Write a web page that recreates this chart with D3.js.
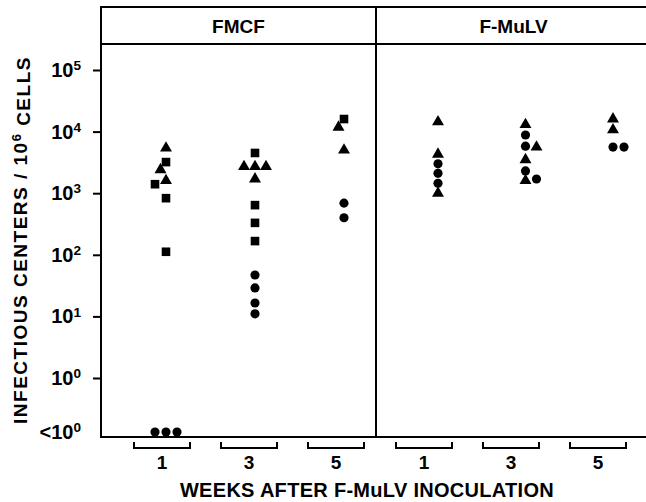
<!DOCTYPE html>
<html>
<head>
<meta charset="utf-8">
<script src="https://cdn.jsdelivr.net/npm/d3@7"></script>
<style>
  body { margin: 0; background: #fff; }
  svg { display: block; font-family: "Liberation Sans", Arial, sans-serif; font-weight: bold; }
</style>
</head>
<body>
<svg id="chart" width="646" height="502"></svg>
<script>
'use strict'

var panels = ['FMCF', 'F-MuLV']
var weeks = [1, 3, 5]
var decades = [0, 1, 2, 3, 4, 5]

// [week, marker, infectious centers / 10^6 cells]; 0 means below 10^0
var fmcfPoints = [
  [1, 'triangle', 5400], [1, 'square', 3200], [1, 'triangle', 2400],
  [1, 'triangle', 1600], [1, 'square', 1400], [1, 'square', 830],
  [1, 'square', 112], [1, 'circle', 0], [1, 'circle', 0], [1, 'circle', 0],
  [3, 'square', 4500], [3, 'triangle', 2700], [3, 'triangle', 2700],
  [3, 'triangle', 2700], [3, 'triangle', 1700], [3, 'square', 640],
  [3, 'square', 330], [3, 'square', 167], [3, 'circle', 47],
  [3, 'circle', 29], [3, 'circle', 16.5], [3, 'circle', 11],
  [5, 'square', 16000], [5, 'triangle', 11800], [5, 'triangle', 5000],
  [5, 'circle', 690], [5, 'circle', 400]
]

var fmulvPoints = [
  [1, 'triangle', 14400], [1, 'triangle', 4300], [1, 'circle', 3000],
  [1, 'circle', 2100], [1, 'circle', 1450], [1, 'triangle', 1000],
  [3, 'triangle', 13000], [3, 'circle', 8800], [3, 'circle', 5800],
  [3, 'triangle', 5600], [3, 'triangle', 3500], [3, 'circle', 2300],
  [3, 'triangle', 1600], [3, 'circle', 1700],
  [5, 'triangle', 16000], [5, 'triangle', 10700], [5, 'circle', 5600],
  [5, 'circle', 5600]
]

var panelPoints = [fmcfPoints, fmulvPoints]

var svg = d3.select('#chart')

var frameTop = 7
var headerBottom = 44
var frameBottom = 437
var belowY = 432

var y = d3.scaleLog().domain([1, 1e5]).range([378, 70])
var panelX = d3.scaleBand().domain(panels).range([101, 651])

// per panel layout: where the week columns and the brackets sit
var layout = {
  'FMCF': { points: [65, 243], brackets: [61, 235], side: -1 },
  'F-MuLV': { points: [62, 237], brackets: [48, 222], side: 1 }
}

var symbols = {
  circle: d3.symbol(d3.symbolCircle, 66),
  square: d3.symbol(d3.symbolSquare, 74),
  triangle: d3.symbol(d3.symbolTriangle, 62)
}

function yOf (v) {
  return v > 0 ? y(v) : belowY
}

// spread out markers that would sit on top of each other
function dodge (rows, side) {
  var step = 5.5
  var gap = 9
  var placed = []
  rows.forEach(function (d) {
    var cands = [0, side, -side, 2 * side, -2 * side, 3 * side, -3 * side]
    for (var i = 0; i < cands.length; i++) {
      var dx = cands[i] * step
      var ok = placed.every(function (p) {
        return p.week !== d.week || Math.hypot(p.dx - dx, p.y - d.y) >= gap
      })
      if (ok) { d.dx = dx; break }
    }
    placed.push(d)
  })
  return rows
}

// frame
var frame = svg.append('g')
  .attr('fill', 'none')
  .attr('stroke', '#000')
  .attr('stroke-width', 2)

frame.append('rect')
  .attr('x', panelX.range()[0])
  .attr('y', frameTop)
  .attr('width', panelX.range()[1] - panelX.range()[0])
  .attr('height', frameBottom - frameTop)

frame.append('line')
  .attr('x1', panelX.range()[0]).attr('x2', panelX.range()[1])
  .attr('y1', headerBottom).attr('y2', headerBottom)

frame.append('line')
  .attr('x1', panelX('F-MuLV')).attr('x2', panelX('F-MuLV'))
  .attr('y1', frameTop).attr('y2', frameBottom)

// left axis ticks
var axis = svg.append('g')
  .attr('transform', 'translate(' + panelX.range()[0] + ',0)')
  .call(d3.axisLeft(y)
    .tickValues(decades.map(function (k) { return Math.pow(10, k) }))
    .tickSize(8)
    .tickFormat(''))

axis.select('.domain').remove()
axis.selectAll('.tick line').attr('stroke-width', 2)

function powerLabel (sel, prefix, exp) {
  sel.append('tspan').text(prefix)
  sel.append('tspan')
    .attr('dy', '-0.5em')
    .attr('font-size', '0.68em')
    .text(exp)
}

decades.forEach(function (k) {
  svg.append('text')
    .attr('x', 81)
    .attr('y', y(Math.pow(10, k)) + 7)
    .attr('text-anchor', 'end')
    .attr('font-size', 20)
    .call(powerLabel, '10', k)
})

svg.append('text')
  .attr('x', 81)
  .attr('y', belowY + 7)
  .attr('text-anchor', 'end')
  .attr('font-size', 20)
  .call(powerLabel, '<10', 0)

svg.append('text')
  .attr('transform', 'translate(27,240) rotate(-90)')
  .attr('text-anchor', 'middle')
  .attr('font-size', 19)
  .attr('letter-spacing', 1.5)
  .call(function (t) {
    t.append('tspan').text('INFECTIOUS CENTERS / 10')
    t.append('tspan').attr('dy', '-0.5em').attr('font-size', '0.68em').text('6')
    t.append('tspan').attr('dy', '0.5em').text(' CELLS')
  })

// panels
panels.forEach(function (name, i) {
  var x0 = panelX(name)
  var lay = layout[name]
  var xPts = d3.scalePoint().domain(weeks).range(lay.points.map(function (v) { return x0 + v }))
  var xBr = d3.scalePoint().domain(weeks).range(lay.brackets.map(function (v) { return x0 + v }))

  svg.append('text')
    .attr('x', x0 + panelX.bandwidth() / 2)
    .attr('y', (frameTop + headerBottom) / 2 + 7)
    .attr('text-anchor', 'middle')
    .attr('font-size', 19)
    .text(name)

  var rows = panelPoints[i].map(function (r) {
    return { week: r[0], shape: r[1], value: r[2], y: yOf(r[2]) }
  })
  dodge(rows, lay.side)

  svg.append('g')
    .selectAll('path')
    .data(rows)
    .enter().append('path')
      .attr('d', function (d) { return symbols[d.shape]() })
      .attr('transform', function (d) {
        return 'translate(' + (xPts(d.week) + d.dx) + ',' + d.y + ')'
      })
      .attr('fill', '#000')

  // week brackets under the axis
  var br = svg.append('g')
    .selectAll('g')
    .data(weeks)
    .enter().append('g')
      .attr('transform', function (w) { return 'translate(' + xBr(w) + ',0)' })

  br.append('path')
    .attr('d', 'M-28,442V448H28V442')
    .attr('fill', 'none')
    .attr('stroke', '#000')
    .attr('stroke-width', 2)

  br.append('text')
    .attr('y', 469)
    .attr('text-anchor', 'middle')
    .attr('font-size', 19)
    .text(function (w) { return w })
})

svg.append('text')
  .attr('x', 367)
  .attr('y', 497)
  .attr('text-anchor', 'middle')
  .attr('font-size', 20)
  .attr('letter-spacing', 0.3)
  .text('WEEKS AFTER F-MuLV INOCULATION')
</script>
</body>
</html>
